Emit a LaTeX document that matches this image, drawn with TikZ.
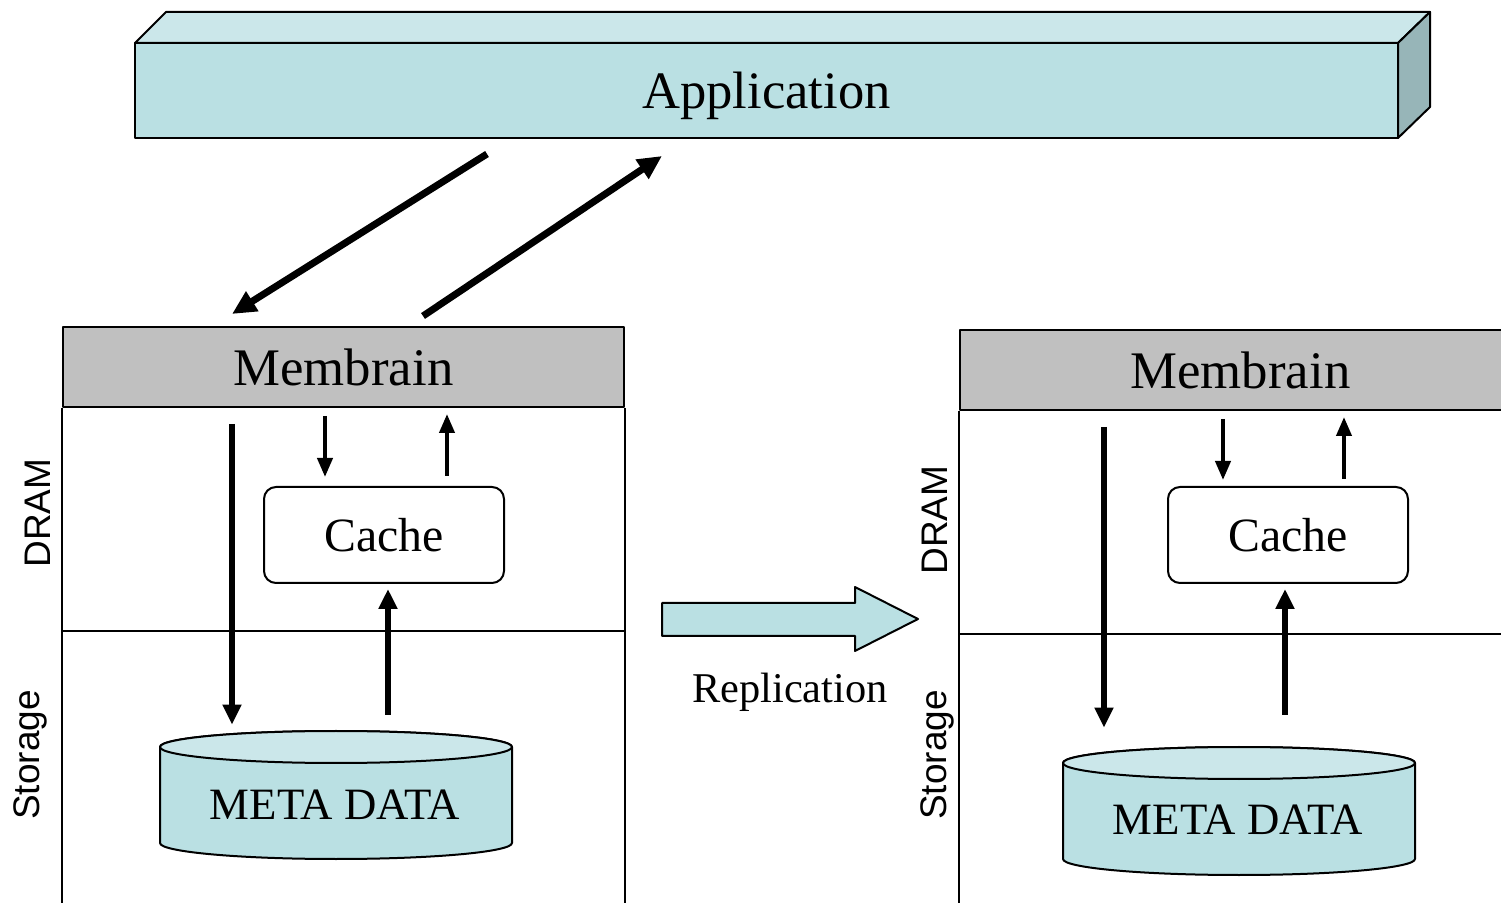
\documentclass[tikz,border=0pt]{standalone}
\usepackage{fontspec}
\setmainfont{Liberation Serif}
\setsansfont{Liberation Sans}
\usetikzlibrary{arrows.meta,calc}
\definecolor{aqua}{HTML}{BAE0E3}
\definecolor{aquatop}{HTML}{CBE7EA}
\definecolor{aquaside}{HTML}{97B5B8}
\definecolor{hdr}{HTML}{C0C0C0}
\begin{document}
\begin{tikzpicture}[x=0.5pt,y=-0.5pt,
  line join=round,
  edge/.style={draw=black,line width=1pt},
  hdrbox/.style={edge,fill=hdr,minimum width=280.5pt,minimum height=40pt,inner sep=0pt,font=\fontsize{26.4pt}{30pt}\selectfont},
  cachebox/.style={edge,fill=white,rounded corners=6pt,minimum width=120pt,minimum height=48pt,inner sep=0pt,font=\fontsize{23.9pt}{28pt}\selectfont},
  cylbox/.style={minimum width=176pt,minimum height=64pt,inner sep=0pt},
  cyltext/.style={font=\fontsize{22.4pt}{26pt}\selectfont,inner sep=0pt},
  sidelabel/.style={rotate=90,font=\sffamily\fontsize{18.5pt}{22pt}\selectfont,inner sep=0pt},
  bigarr/.style={line width=3pt,-{Triangle[length=10pt,width=9pt]}},
  smallarr/.style={line width=2pt,-{Triangle[length=9.5pt,width=7.5pt]}},
  diagarr/.style={line width=3.5pt,-{Triangle[length=12pt,width=11pt]}}]
\useasboundingbox (0,0) rectangle (1501,903);
\clip (0,0) rectangle (1501,903);

% Application 3D bar
\filldraw[edge,fill=aquatop] (135,43) -- (166,12) -- (1430,12) -- (1398,43) -- cycle;
\filldraw[edge,fill=aquaside] (1398,43) -- (1430,12) -- (1430,107) -- (1398,138) -- cycle;
\node[edge,fill=aqua,minimum width=631.5pt,minimum height=47.5pt,inner sep=0pt,text depth=0pt,
      font=\fontsize{26.3pt}{30pt}\selectfont] (app) at (766.5,90.5) {Application};

% Left panel
\node[hdrbox] (memL) at (343.5,367) {Membrain};
\draw[edge] (memL.south west) -- ++(0,520);
\draw[edge] (memL.south east) -- ++(0,520);
\coordinate (divLa) at (63,631);
\coordinate (divLb) at (624,631);
\draw[edge] (divLa) -- (divLb);
\node[cachebox] (cacheL) at (384,535) {Cache};

% left cylinder
\filldraw[edge,fill=aqua] (160,747) -- (160,843) arc[start angle=180,end angle=360,x radius=88pt,y radius=8pt]
   -- (512,747) arc[start angle=0,end angle=180,x radius=88pt,y radius=8pt] -- cycle;
\filldraw[edge,fill=aquatop] (336,747) ellipse[x radius=88pt,y radius=8pt];
\node[cylbox] (cylL) at (336,795) {};
\node[cyltext] (mdL) at (335,805) {META DATA};

% Right panel
\node[hdrbox] (memR) at (1240.5,370) {Membrain};
\draw[edge] (memR.south west) -- ++(0,520);
\coordinate (divRa) at (960,634);
\coordinate (divRb) at (1530,634);
\draw[edge] (divRa) -- (divRb);
\node[cachebox] (cacheR) at (1288,535) {Cache};

% right cylinder
\filldraw[edge,fill=aqua] (1063,763) -- (1063,859) arc[start angle=180,end angle=360,x radius=88pt,y radius=8pt]
   -- (1415,763) arc[start angle=0,end angle=180,x radius=88pt,y radius=8pt] -- cycle;
\filldraw[edge,fill=aquatop] (1239,763) ellipse[x radius=88pt,y radius=8pt];
\node[cylbox] (cylR) at (1239,811) {};
\node[cyltext] (mdR) at (1238,820) {META DATA};

% side labels
\node[sidelabel] (dramL) at (38,513) {DRAM};
\node[sidelabel] (storL) at (30,755) {Storage};
\node[sidelabel] (dramR) at (935,520) {DRAM};
\node[sidelabel] (storR) at (937,755) {Storage};

% x positions of vertical arrows
\coordinate (xa) at (232,0);
\coordinate (xb) at (325,0);
\coordinate (xc) at (447,0);
\coordinate (xd) at (388,0);
\coordinate (xe) at (1104,0);
\coordinate (xf) at (1223,0);
\coordinate (xg) at (1344,0);
\coordinate (xh) at (1285,0);

% left arrows
\draw[bigarr,shorten <=8pt,shorten >=3pt] (memL.south -| xa) -- (cylL.north -| xa);
\draw[smallarr,shorten <=4pt,shorten >=4.5pt] (memL.south -| xb) -- (cacheL.north -| xb);
\draw[smallarr,shorten <=5pt,shorten >=3pt] (cacheL.north -| xc) -- (memL.south -| xc);
\draw[bigarr,shorten <=8pt,shorten >=2.5pt] (cylL.north -| xd) -- (cacheL.south -| xd);

% right arrows
\draw[bigarr,shorten <=8pt,shorten >=9.5pt] (memR.south -| xe) -- (cylR.north -| xe);
\draw[smallarr,shorten <=4pt,shorten >=3pt] (memR.south -| xf) -- (cacheR.north -| xf);
\draw[smallarr,shorten <=3.5pt,shorten >=3pt] (cacheR.north -| xg) -- (memR.south -| xg);
\draw[bigarr,shorten <=16pt,shorten >=2.5pt] (cylR.north -| xh) -- (cacheR.south -| xh);

% diagonal arrows
\coordinate (d1s) at (487,154);
\coordinate (d1e) at (232,314);
\coordinate (d2s) at (423,316);
\coordinate (d2e) at (662,156);
\draw[diagarr] (d1s) -- (d1e);
\draw[diagarr] (d2s) -- (d2e);

% replication block arrow
\filldraw[edge,fill=aqua] (662,603) -- (855,603) -- (855,587) -- (918,619) -- (855,651) -- (855,636) -- (662,636) -- cycle;
\node[font=\fontsize{21.2pt}{25pt}\selectfont,inner sep=0pt] (repl) at (790,692) {Replication};
\end{tikzpicture}
\end{document}
